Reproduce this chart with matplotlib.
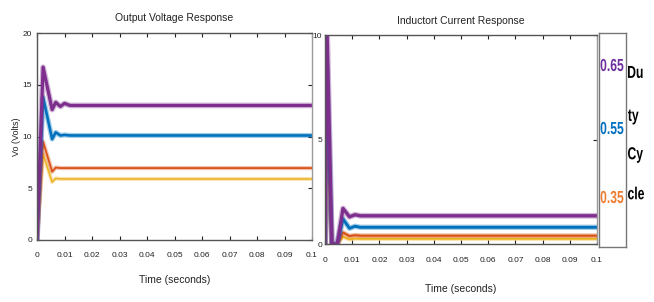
import matplotlib
matplotlib.use('Agg')
import matplotlib.pyplot as plt
import matplotlib.transforms as mtransforms
from matplotlib.textpath import TextPath
from matplotlib.patches import PathPatch
from matplotlib.font_manager import FontProperties

plt.rcParams['font.family'] = ['Liberation Sans', 'DejaVu Sans']

# --- data ---
t_v = [0, 0.0022, 0.0055, 0.0068, 0.0085, 0.010, 0.012, 0.1]
v_purple = [0, 16.7, 12.6, 13.3, 12.9, 13.2, 13.0, 13.0]
v_blue = [0, 13.8, 9.75, 10.4, 10.1, 10.15, 10.1, 10.1]
v_orange = [0, 9.5, 6.6, 7.0, 6.95, 6.95, 6.95, 6.95]
v_yellow = [0, 8.3, 5.6, 5.95, 5.9, 5.9, 5.9, 5.9]

t_i = [0, 0.0007, 0.0025, 0.0045, 0.0066, 0.009, 0.011, 0.013, 0.1]
i_purple = [0, 10.5, 0, 0, 1.7, 1.3, 1.4, 1.35, 1.35]
i_blue = [0, 8.5, 0, 0, 1.2, 0.75, 0.85, 0.8, 0.8]
i_orange = [0, 6.1, 0, 0, 0.55, 0.38, 0.42, 0.4, 0.4]
i_yellow = [0, 5.0, 0, 0, 0.35, 0.22, 0.26, 0.25, 0.25]

x_ticks = [0, 0.01, 0.02, 0.03, 0.04, 0.05, 0.06, 0.07, 0.08, 0.09, 0.1]
x_ticklabels = ['0', '0.01', '0.02', '0.03', '0.04', '0.05', '0.06', '0.07', '0.08', '0.09', '0.1']
duty_labels = ['0.65', '0.55', '0.35']
duty_colors = ['#7030A0', '#0070C0', '#ED7D31']
legend_word = ['Du', 'ty', 'Cy', 'cle']

c_purple = '#7E2F8E'
c_blue = '#0072BD'
c_orange = '#D95319'
c_yellow = '#EDB120'

W, H = 654, 302
fig = plt.figure(figsize=(W / 100, H / 100), dpi=100)
fig.patch.set_facecolor('white')


def style_axes(ax):
    ax.set_xlim(0, 0.1)
    ax.set_xticks(x_ticks)
    ax.set_xticklabels(x_ticklabels)
    ax.tick_params(direction='in', top=True, right=True, length=3, width=0.8,
                   labelsize=6, colors='#222222')
    ax.tick_params(axis='x', pad=9)
    for s in ax.spines.values():
        s.set_color('#555555')
        s.set_linewidth(1.0)
    ax.spines['right'].set_color('#999999')


def band(ax, t, y, color, lw):
    # light ripple band under a solid trace
    ax.plot(t, y, color=color, lw=lw + 1.8, alpha=0.35)
    ax.plot(t, y, color=color, lw=lw)


def squeezed(x, y, s, size, color, sx=0.7, ha='center'):
    # condensed bold text drawn in pixel coords (y measured from top)
    fp = FontProperties(family='Liberation Sans', weight='bold')
    tp = TextPath((0, 0), s, size=size, prop=fp)
    ext = tp.get_extents()
    k = 100 / 72
    w = ext.width * k * sx
    x0 = x - w / 2 - ext.x0 * k * sx if ha == 'center' else x - ext.x0 * k * sx
    y0 = (H - y) - (ext.y0 + ext.height / 2) * k
    tr = mtransforms.Affine2D().scale(k * sx, k).translate(x0, y0)
    fig.patches.append(PathPatch(tr.transform_path(tp), facecolor=color,
                                 edgecolor='none', transform=mtransforms.IdentityTransform(),
                                 figure=fig))


# left: output voltage
ax1 = fig.add_axes([0.0566, 0.2053, 0.4205, 0.6854])
band(ax1, t_v, v_yellow, c_yellow, 1.1)
band(ax1, t_v, v_orange, c_orange, 1.3)
band(ax1, t_v, v_blue, c_blue, 1.9)
band(ax1, t_v, v_purple, c_purple, 2.3)
ax1.set_ylim(0, 20)
ax1.set_yticks([0, 5, 10, 15, 20])
style_axes(ax1)
ax1.set_title('Output Voltage Response', fontsize=7.5, pad=9, color='#222222')
ax1.set_xlabel('Time (seconds)', fontsize=7.5, labelpad=11, color='#222222')
ax1.set_ylabel('Vo (Volts)', fontsize=6.5, labelpad=1, color='#222222')

# right: inductor current
ax2 = fig.add_axes([0.497, 0.192, 0.4159, 0.692])
band(ax2, t_i, i_yellow, c_yellow, 1.4)
band(ax2, t_i, i_orange, c_orange, 1.6)
band(ax2, t_i, i_blue, c_blue, 2.1)
band(ax2, t_i, i_purple, c_purple, 2.4)
ax2.set_ylim(0, 10)
ax2.set_yticks([0, 5, 10])
style_axes(ax2)
ax2.tick_params(axis='y', pad=2)
ax2.set_title('Inductort Current Response', fontsize=7.5, pad=8, color='#222222')
ax2.set_xlabel('Time (seconds)', fontsize=7.5, labelpad=15, color='#222222')

# duty-cycle legend box
axl = fig.add_axes([0.916, 0.182, 0.0413, 0.709])
axl.set_xticks([])
axl.set_yticks([])
for s in axl.spines.values():
    s.set_color('#777777')
    s.set_linewidth(1.0)
for lab, col, yy in zip(duty_labels, duty_colors, [65, 128, 197]):
    squeezed(612, yy, lab, 12.5, col)
for word, yy in zip(legend_word, [72, 117, 155, 193]):
    squeezed(628, yy, word, 12.5, 'black', ha='left')

fig.savefig('out.png', dpi=100)
